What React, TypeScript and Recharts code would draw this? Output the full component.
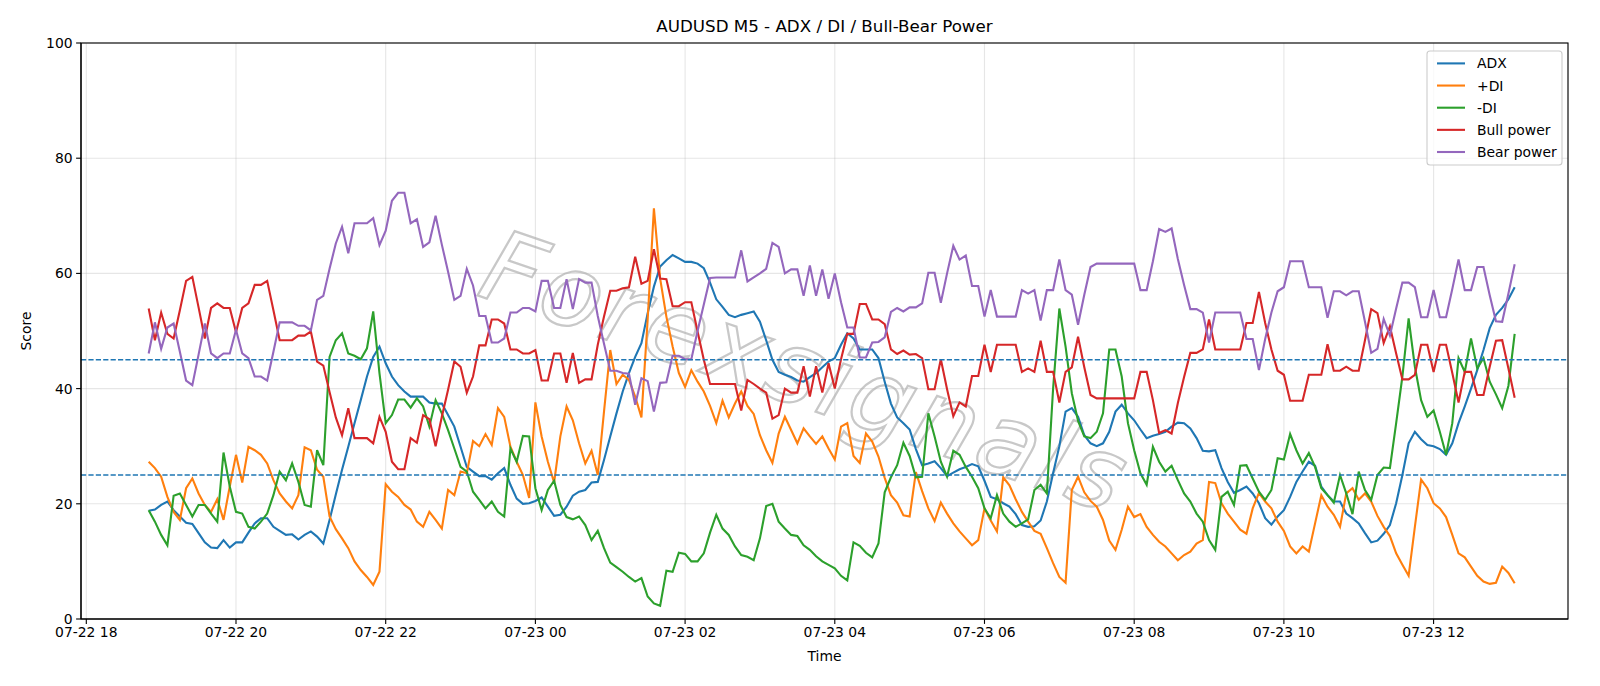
import React from 'react';
import { LineChart, Line, XAxis, YAxis, CartesianGrid, ReferenceLine } from 'recharts';

// ---- data: AUDUSD M5, one value per 5-minute bar starting 07-22 18:50 ----
const YEAR = 2025;
const FIRST_BAR = { month: 7, day: 22, hour: 18, minute: 50 };
const BAR_MINUTES = 5;

const ADX = [
  18.8, 19.0, 19.8, 20.4, 18.9, 17.8, 16.7, 16.5, 14.9, 13.3,
  12.4, 12.3, 13.7, 12.4, 13.3, 13.3, 15.0, 16.6, 17.5, 17.5,
  16.0, 15.3, 14.6, 14.7, 13.8, 14.6, 15.2, 14.3, 13.1, 17.2,
  21.6, 25.9, 29.9, 34.0, 38.0, 42.1, 45.5, 47.3, 44.4, 42.1,
  40.6, 39.5, 38.6, 38.6, 38.6, 37.6, 37.4, 37.4, 35.4, 33.4,
  29.9, 26.4, 25.6, 24.8, 24.8, 24.2, 25.3, 26.2, 23.3, 20.9,
  20.0, 20.1, 20.5, 21.1, 19.5, 17.9, 18.1, 19.5, 21.4, 22.1,
  22.4, 23.7, 23.8, 27.6, 31.7, 35.7, 39.5, 42.7, 45.5, 47.9,
  53.1, 57.7, 61.2, 62.3, 63.2, 62.6, 62.0, 62.0, 61.7, 60.9,
  58.4, 55.5, 54.2, 52.8, 52.4, 52.8, 53.1, 53.4, 51.6, 48.4,
  45.0, 42.9, 42.4, 42.0, 41.4, 41.2, 42.0, 42.7, 43.7, 44.7,
  45.3, 47.6, 49.6, 48.7, 46.8, 46.8, 46.8, 45.3, 41.2, 37.4,
  35.0, 34.0, 32.9, 29.5, 26.7, 27.0, 27.4, 26.2, 24.8, 25.4,
  26.0, 26.4, 26.9, 26.5, 24.0, 21.2, 20.8, 20.1, 19.5, 18.2,
  16.3, 16.0, 16.1, 17.1, 20.4, 25.3, 30.0, 36.0, 36.6, 35.1,
  31.9, 30.5, 30.0, 30.5, 32.5, 36.0, 37.2, 35.7, 34.5, 32.9,
  31.4, 31.8, 32.1, 32.5, 33.4, 34.1, 34.0, 33.1, 31.4, 29.2,
  29.1, 29.3, 26.2, 23.8, 21.9, 22.4, 23.0, 21.8, 20.1, 17.5,
  16.4, 17.8, 18.9, 21.2, 23.8, 25.6, 27.3, 26.6, 23.0, 21.5,
  20.4, 20.4, 18.3, 17.5, 16.6, 14.9, 13.3, 13.6, 14.8, 16.3,
  20.1, 25.0, 30.5, 32.5, 31.2, 30.2, 30.0, 29.5, 28.5, 30.5,
  34.0, 36.9, 40.0, 43.2, 46.7, 50.5, 52.8, 54.0, 55.5, 57.6,
];

const PLUS_DI = [
  27.3, 26.2, 24.7, 21.2, 18.6, 17.2, 22.7, 24.4, 21.8, 19.8,
  18.6, 20.8, 17.2, 23.0, 28.5, 23.7, 29.9, 29.3, 28.5, 27.0,
  24.1, 21.8, 20.4, 19.2, 21.5, 29.8, 29.3, 25.9, 24.7, 17.8,
  15.6, 14.0, 12.3, 10.0, 8.5, 7.3, 5.9, 8.2, 23.4, 22.1,
  21.2, 19.8, 19.0, 16.9, 16.0, 18.6, 17.2, 15.7, 22.4, 21.5,
  25.6, 25.3, 30.9, 30.0, 32.1, 30.2, 36.6, 35.1, 29.9, 27.3,
  25.0, 21.0, 37.6, 31.7, 27.3, 23.7, 31.7, 36.9, 34.5, 30.5,
  27.0, 29.2, 25.0, 36.0, 46.7, 40.8, 42.4, 41.5, 38.6, 35.0,
  52.0, 71.3, 59.1, 52.5, 47.3, 42.7, 40.3, 43.2, 41.2, 39.5,
  37.0, 34.0, 37.9, 35.0, 37.4, 39.5, 37.0, 35.6, 31.9, 29.3,
  27.1, 32.2, 35.1, 32.8, 30.5, 33.1, 31.7, 30.4, 31.7, 29.6,
  27.7, 33.4, 34.0, 28.3, 27.1, 32.2, 30.8, 28.2, 24.5, 21.5,
  20.2, 18.0, 17.8, 25.5, 22.2, 19.2, 17.0, 20.2, 18.3, 16.6,
  15.2, 14.0, 12.8, 13.7, 19.2, 17.1, 15.2, 24.6, 23.2, 20.8,
  18.6, 16.9, 15.3, 14.8, 12.3, 9.7, 7.3, 6.3, 22.4, 24.7,
  22.0, 20.5, 19.5, 17.2, 13.6, 12.0, 15.5, 19.5, 17.7, 18.2,
  16.0, 14.6, 13.4, 12.6, 11.4, 10.2, 11.1, 11.7, 13.1, 13.7,
  23.8, 23.6, 20.1, 18.3, 16.9, 15.5, 14.8, 19.2, 21.9, 20.4,
  19.2, 16.9, 15.3, 12.6, 11.4, 12.6, 11.7, 16.6, 21.5, 19.5,
  18.1, 16.0, 21.8, 22.7, 20.7, 21.8, 20.4, 17.9, 16.0, 14.4,
  11.4, 9.4, 7.5, 16.0, 24.2, 22.7, 20.1, 19.2, 17.7, 14.6,
  11.4, 10.7, 9.1, 7.5, 6.5, 6.1, 6.3, 9.1, 8.0, 6.2,
];

const MINUS_DI = [
  18.9, 16.9, 14.6, 12.8, 21.4, 21.8, 19.8, 17.8, 19.8, 19.8,
  18.3, 16.9, 28.9, 23.0, 18.6, 18.3, 16.0, 15.7, 16.9, 18.3,
  21.5, 25.6, 24.1, 27.0, 23.8, 19.8, 19.5, 29.3, 26.7, 45.5,
  48.4, 49.6, 46.1, 45.7, 45.1, 47.0, 53.4, 42.7, 34.0, 35.4,
  38.1, 38.1, 36.7, 38.3, 36.9, 33.4, 38.0, 35.7, 32.8, 29.6,
  26.4, 25.6, 22.1, 20.7, 19.2, 20.4, 18.6, 17.8, 29.6, 27.3,
  31.8, 31.7, 22.7, 18.9, 22.4, 24.0, 19.8, 17.7, 17.3, 17.8,
  16.3, 13.7, 15.3, 12.3, 9.8, 9.0, 8.2, 7.3, 6.5, 7.1,
  3.9, 2.7, 2.3, 8.4, 8.2, 11.5, 11.3, 10.0, 10.0, 11.4,
  15.0, 18.1, 15.7, 14.6, 12.6, 11.1, 10.8, 10.2, 14.0, 19.6,
  20.0, 16.9, 15.7, 14.6, 14.4, 12.8, 12.0, 10.9, 10.0, 9.4,
  8.8, 7.5, 6.7, 13.3, 12.7, 11.5, 10.7, 13.1, 22.0, 24.6,
  26.7, 30.6, 28.3, 24.6, 24.7, 35.7, 31.7, 27.3, 24.7, 29.2,
  28.5, 26.4, 24.7, 22.7, 19.2, 17.5, 21.5, 18.3, 16.9, 16.0,
  16.6, 17.3, 22.4, 23.3, 21.8, 40.0, 53.9, 47.3, 39.2, 34.4,
  31.7, 31.4, 32.5, 35.7, 46.8, 46.8, 42.1, 34.0, 29.3, 25.3,
  23.3, 29.9, 27.3, 25.6, 26.6, 24.1, 21.8, 20.4, 18.3, 16.9,
  13.7, 12.0, 21.2, 22.1, 19.8, 26.6, 26.7, 24.4, 22.1, 20.7,
  22.4, 27.9, 27.7, 32.1, 29.3, 27.0, 28.8, 26.4, 22.7, 21.5,
  20.2, 25.0, 21.8, 18.2, 25.6, 22.4, 20.7, 25.0, 26.3, 26.2,
  34.0, 42.1, 52.2, 43.8, 38.0, 35.1, 36.2, 32.5, 28.5, 34.0,
  45.3, 42.9, 48.7, 43.5, 45.3, 41.2, 39.0, 36.6, 40.5, 49.5,
];

const BULL_POWER = [
  53.9, 48.4, 53.2, 49.5, 48.7, 53.6, 58.7, 59.4, 54.1, 48.7,
  54.0, 54.8, 54.0, 54.0, 49.8, 54.0, 54.8, 58.0, 58.0, 58.7,
  53.6, 48.4, 48.4, 48.4, 49.2, 49.2, 49.9, 44.7, 44.0, 39.4,
  35.0, 31.9, 36.6, 31.4, 31.4, 31.4, 30.5, 35.1, 32.5, 27.3,
  26.0, 26.0, 31.4, 30.6, 35.4, 34.7, 30.0, 35.1, 39.8, 44.7,
  43.8, 39.3, 42.1, 47.5, 47.5, 52.0, 52.0, 51.3, 46.8, 46.8,
  46.1, 46.1, 46.7, 41.4, 41.4, 46.1, 46.1, 41.0, 46.2, 41.0,
  41.6, 41.6, 47.6, 52.5, 57.0, 57.0, 57.4, 57.6, 62.9, 58.2,
  58.7, 64.2, 59.1, 59.0, 54.3, 54.3, 55.0, 55.0, 49.9, 45.0,
  40.8, 40.8, 40.8, 40.8, 40.8, 36.2, 41.5, 40.8, 40.0, 39.3,
  34.8, 35.4, 40.0, 39.3, 39.3, 43.9, 38.6, 43.9, 39.3, 44.4,
  40.0, 45.1, 49.5, 49.5, 54.7, 54.7, 52.0, 52.0, 51.2, 46.8,
  46.0, 46.6, 45.9, 46.0, 45.3, 39.9, 39.9, 45.1, 39.9, 35.2,
  37.6, 36.9, 42.2, 42.2, 47.6, 42.9, 47.6, 47.6, 47.6, 47.6,
  42.9, 43.5, 42.9, 48.3, 42.9, 42.9, 37.6, 42.9, 43.7, 49.0,
  43.7, 38.9, 38.3, 38.3, 38.3, 38.3, 38.3, 38.3, 38.3, 42.9,
  42.9, 38.0, 32.3, 32.8, 32.2, 37.5, 42.0, 46.2, 46.2, 46.8,
  52.0, 46.8, 46.8, 46.8, 46.8, 46.8, 51.4, 51.4, 56.8, 51.4,
  46.8, 43.1, 42.4, 37.9, 37.9, 37.9, 42.4, 42.4, 42.4, 47.7,
  43.1, 43.1, 43.8, 43.1, 43.1, 48.4, 53.8, 53.1, 47.9, 50.8,
  46.1, 41.6, 41.6, 42.4, 47.6, 47.6, 42.9, 47.6, 47.6, 42.7,
  37.6, 42.9, 42.9, 38.9, 38.9, 43.8, 48.3, 48.4, 43.5, 38.4,
];

const BEAR_POWER = [
  46.1, 51.5, 46.9, 50.6, 51.3, 46.4, 41.4, 40.6, 45.9, 51.3,
  46.1, 45.3, 46.1, 46.1, 50.2, 46.1, 45.3, 42.1, 42.1, 41.4,
  46.4, 51.5, 51.5, 51.5, 50.9, 50.9, 50.1, 55.4, 56.1, 60.8,
  65.2, 68.1, 63.5, 68.7, 68.7, 68.7, 69.6, 64.9, 67.4, 72.6,
  74.0, 74.0, 68.7, 69.4, 64.6, 65.4, 70.0, 65.0, 60.3, 55.4,
  56.1, 60.8, 57.9, 52.6, 52.6, 48.0, 48.0, 48.7, 53.2, 53.2,
  54.0, 54.0, 53.4, 58.7, 58.7, 54.0, 54.0, 59.0, 53.8, 59.0,
  58.4, 58.4, 52.6, 47.8, 43.1, 43.1, 42.7, 42.6, 37.2, 41.8,
  41.3, 36.0, 41.0, 41.1, 45.7, 45.7, 45.1, 45.1, 50.0, 54.6,
  59.2, 59.3, 59.3, 59.3, 59.3, 64.0, 58.6, 59.3, 60.0, 60.8,
  65.3, 64.6, 60.0, 60.7, 60.7, 56.1, 61.4, 56.1, 60.7, 55.6,
  60.0, 55.0, 50.6, 50.6, 45.4, 45.4, 48.0, 48.1, 48.9, 53.3,
  54.0, 53.4, 54.1, 54.1, 54.8, 60.1, 60.1, 54.9, 60.0, 64.8,
  62.4, 63.1, 57.8, 57.8, 52.5, 57.1, 52.5, 52.5, 52.5, 52.5,
  57.1, 56.5, 57.1, 51.8, 57.1, 57.1, 62.4, 57.1, 56.3, 51.1,
  56.3, 61.1, 61.7, 61.7, 61.7, 61.7, 61.7, 61.7, 61.7, 57.1,
  57.1, 62.1, 67.7, 67.2, 67.8, 62.5, 58.0, 53.8, 53.8, 53.2,
  48.0, 53.2, 53.2, 53.2, 53.2, 53.2, 48.6, 48.6, 43.2, 48.6,
  53.2, 56.9, 57.6, 62.1, 62.1, 62.1, 57.6, 57.6, 57.6, 52.3,
  56.9, 56.9, 56.2, 56.9, 56.9, 51.6, 46.2, 46.9, 52.1, 49.2,
  53.9, 58.4, 58.4, 57.6, 52.4, 52.4, 57.1, 52.4, 52.4, 57.3,
  62.4, 57.1, 57.1, 61.1, 61.1, 56.2, 51.7, 51.6, 56.5, 61.6,
];

const TICK_LABELS = [
  '07-22 18', '07-22 20', '07-22 22', '07-23 00', '07-23 02',
  '07-23 04', '07-23 06', '07-23 08', '07-23 10', '07-23 12',
];
const Y_TICKS = [0, 20, 40, 60, 80, 100];
const THRESHOLDS = [45, 25];

const SERIES = [
  { key: 'adx', name: 'ADX', color: '#1f77b4', values: ADX },
  { key: 'pdi', name: '+DI', color: '#ff7f0e', values: PLUS_DI },
  { key: 'mdi', name: '-DI', color: '#2ca02c', values: MINUS_DI },
  { key: 'bull', name: 'Bull power', color: '#d62728', values: BULL_POWER },
  { key: 'bear', name: 'Bear power', color: '#9467bd', values: BEAR_POWER },
];

// ---- time helpers (all in UTC so the page timezone does not matter) ----
const MINUTE = 60 * 1000;
const labelToMs = (label: string) => {
  const [md, hh] = label.split(' ');
  const [mm, dd] = md.split('-').map(Number);
  return Date.UTC(YEAR, mm - 1, dd, Number(hh));
};
const TICK_MS = TICK_LABELS.map(labelToMs);
const START_MS = Date.UTC(YEAR, FIRST_BAR.month - 1, FIRST_BAR.day, FIRST_BAR.hour, FIRST_BAR.minute);
const X_MIN = Date.UTC(YEAR, 6, 22, 17, 55, 45);
const X_MAX = Date.UTC(YEAR, 6, 23, 13, 47, 45);

const rows = ADX.map((_, i) => {
  const row: Record<string, number> = { t: START_MS + i * BAR_MINUTES * MINUTE };
  SERIES.forEach((s) => {
    row[s.key] = s.values[i];
  });
  return row;
});

const tickText = (v: number) => {
  const idx = TICK_MS.indexOf(v);
  return idx >= 0 ? TICK_LABELS[idx] : '';
};

// ---- layout ----
const W = 1600;
const H = 686;
const PLOT = { left: 81, top: 43, right: 1568, bottom: 619 };
const FONT = "'DejaVu Sans', 'Liberation Sans', sans-serif";
const TICK_FONT = 13.9;

const Legend = () => {
  const x0 = 1427;
  const y0 = 51;
  const rowGap = 22.15;
  return (
    <g>
      <rect x={x0} y={y0} width={135} height={114} rx={3} ry={3} fill="#ffffff" fillOpacity={0.8} stroke="#cccccc" strokeWidth={1.1} />
      {SERIES.map((s, i) => {
        const y = y0 + 12.4 + i * rowGap;
        return (
          <g key={s.key}>
            <line x1={x0 + 10} x2={x0 + 38} y1={y} y2={y} stroke={s.color} strokeWidth={2.1} />
            <text x={x0 + 50} y={y + 5} fontSize={TICK_FONT} fill="#000">{s.name}</text>
          </g>
        );
      })}
    </g>
  );
};

export default function App() {
  return (
    <div style={{ position: 'absolute', left: 0, top: 0, width: W, height: H, background: '#ffffff', fontFamily: FONT, overflow: 'hidden' }}>
      {/* watermark behind the plot */}
      <svg width={W} height={H} style={{ position: 'absolute', left: 0, top: 0 }}>
        <text
          x={806}
          y={372}
          transform="rotate(19 806 372)"
          textAnchor="middle"
          dominantBaseline="central"
          fontSize={100}
          fontStyle="italic"
          letterSpacing={4}
          fontFamily={FONT}
          fill="none"
          stroke="#c8c8c8"
          strokeWidth={2.2}
        >
          Forexsignals
        </text>
      </svg>

      <div style={{ position: 'absolute', left: 0, top: 0 }}>
        <LineChart width={W} height={H} data={rows} margin={{ top: PLOT.top, right: W - PLOT.right, left: 0, bottom: 0 }}>
          <CartesianGrid stroke="#b0b0b0" strokeOpacity={0.32} strokeWidth={1.1} />
          <XAxis
            dataKey="t"
            type="number"
            domain={[X_MIN, X_MAX]}
            allowDataOverflow
            ticks={TICK_MS}
            interval={0}
            tickFormatter={tickText}
            height={H - PLOT.bottom}
            tickSize={4.9}
            tickMargin={3.5}
            tick={{ fill: '#000', fontSize: TICK_FONT, fontFamily: FONT }}
            tickLine={{ stroke: '#000', strokeWidth: 1.1 }}
            axisLine={{ stroke: '#000', strokeWidth: 1.1 }}
          />
          <YAxis
            type="number"
            domain={[0, 100]}
            ticks={Y_TICKS}
            interval={0}
            width={PLOT.left}
            tickSize={4.9}
            tickMargin={3.5}
            tick={{ fill: '#000', fontSize: TICK_FONT, fontFamily: FONT }}
            tickLine={{ stroke: '#000', strokeWidth: 1.1 }}
            axisLine={{ stroke: '#000', strokeWidth: 1.1 }}
          />
          {SERIES.map((s) => (
            <Line
              key={s.key}
              type="linear"
              dataKey={s.key}
              name={s.name}
              stroke={s.color}
              strokeWidth={2.1}
              dot={false}
              activeDot={false}
              isAnimationActive={false}
            />
          ))}
          {THRESHOLDS.map((v) => (
            <ReferenceLine key={v} y={v} stroke="#1f77b4" strokeWidth={1.4} strokeDasharray="5.2 2.2" />
          ))}
        </LineChart>
      </div>

      {/* frame, titles and legend */}
      <svg width={W} height={H} style={{ position: 'absolute', left: 0, top: 0, pointerEvents: 'none' }} fontFamily={FONT}>
        <rect x={PLOT.left} y={PLOT.top} width={PLOT.right - PLOT.left} height={PLOT.bottom - PLOT.top} fill="none" stroke="#000" strokeWidth={1.1} />
        <text x={(PLOT.left + PLOT.right) / 2} y={32} textAnchor="middle" fontSize={16.7} fill="#000">
          AUDUSD M5 - ADX / DI / Bull-Bear Power
        </text>
        <text x={(PLOT.left + PLOT.right) / 2} y={661} textAnchor="middle" fontSize={TICK_FONT} fill="#000">
          Time
        </text>
        <text
          x={25.5}
          y={(PLOT.top + PLOT.bottom) / 2}
          transform={`rotate(-90 25.5 ${(PLOT.top + PLOT.bottom) / 2})`}
          textAnchor="middle"
          dominantBaseline="central"
          fontSize={TICK_FONT}
          fill="#000"
        >
          Score
        </text>
        <Legend />
      </svg>
    </div>
  );
}
